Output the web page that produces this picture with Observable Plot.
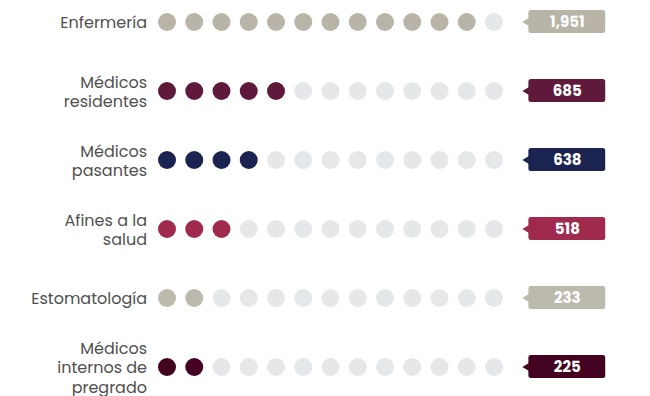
<!DOCTYPE html>
<html>
<head>
<meta charset="utf-8">
<script src="https://cdn.jsdelivr.net/npm/d3@7"></script>
<script src="https://cdn.jsdelivr.net/npm/@observablehq/plot@0.6"></script>
<style>
  html, body { margin: 0; padding: 0; background: #fff; }
  #chart svg { display: block; }
</style>
</head>
<body>
<div id="chart"></div>
<script>
// Data
const categories = ["Enfermería", "Médicos\nresidentes", "Médicos\npasantes", "Afines a la\nsalud", "Estomatología", "Médicos\ninternos de\npregrado"];
const values = [1951, 685, 638, 518, 233, 225];
const filledDots = [12, 5, 4, 3, 2, 2];
const colors = ["#b8b5a8", "#5f1a3b", "#1b2450", "#a0294e", "#bcb9ad", "#43021f"];
const totalDots = 13;
const emptyColor = "#e6e7e9";

// Build tables
const dots = [];
categories.forEach((c, k) => {
  for (let i = 0; i < totalDots; i++) {
    dots.push({cat: c, i, fill: i < filledDots[k] ? colors[k] : emptyColor});
  }
});
const tags = categories.map((c, k) => ({cat: c, value: values[k], color: colors[k]}));

const leftArrow = {
  draw(ctx, size) {
    const s = Math.sqrt(size);
    ctx.moveTo(-s * 0.5, 0);
    ctx.lineTo(s * 0.5, -s * 0.6);
    ctx.lineTo(s * 0.5, s * 0.6);
    ctx.closePath();
  }
};

const tagLeft = 13.28, tagRight = 16.1;

const chart = Plot.plot({
  width: 650,
  height: 396,
  margin: 0,
  x: {type: "linear", domain: [0, 12], range: [166.5, 493.5], axis: null},
  y: {type: "band", domain: categories, range: [-13.6, 401.6], padding: 0, axis: null},
  style: {fontFamily: "Poppins, 'Noto Sans', sans-serif", background: "#fff"},
  marks: [
    Plot.dot(dots, {x: "i", y: "cat", r: 9, fill: "fill", stroke: null}),
    Plot.text(categories, {
      x: 0, y: d => d, text: d => d, textAnchor: "end", dx: -20,
      fontSize: 16, fill: "#505050", lineHeight: 1.22
    }),
    Plot.barX(tags, {
      x1: tagLeft, x2: tagRight, y: "cat", fill: "color",
      insetTop: 23.1, insetBottom: 23.1, rx: 2.5
    }),
    Plot.dot(tags, {x: tagLeft, y: "cat", symbol: leftArrow, r: 4, fill: "color", dx: -3, stroke: null}),
    Plot.text(tags, {
      x: (tagLeft + tagRight) / 2, y: "cat", text: d => d3.format(",")(d.value),
      fill: "#fff", fontSize: 15, fontWeight: "bold"
    })
  ]
});
document.getElementById("chart").append(chart);
</script>
</body>
</html>
